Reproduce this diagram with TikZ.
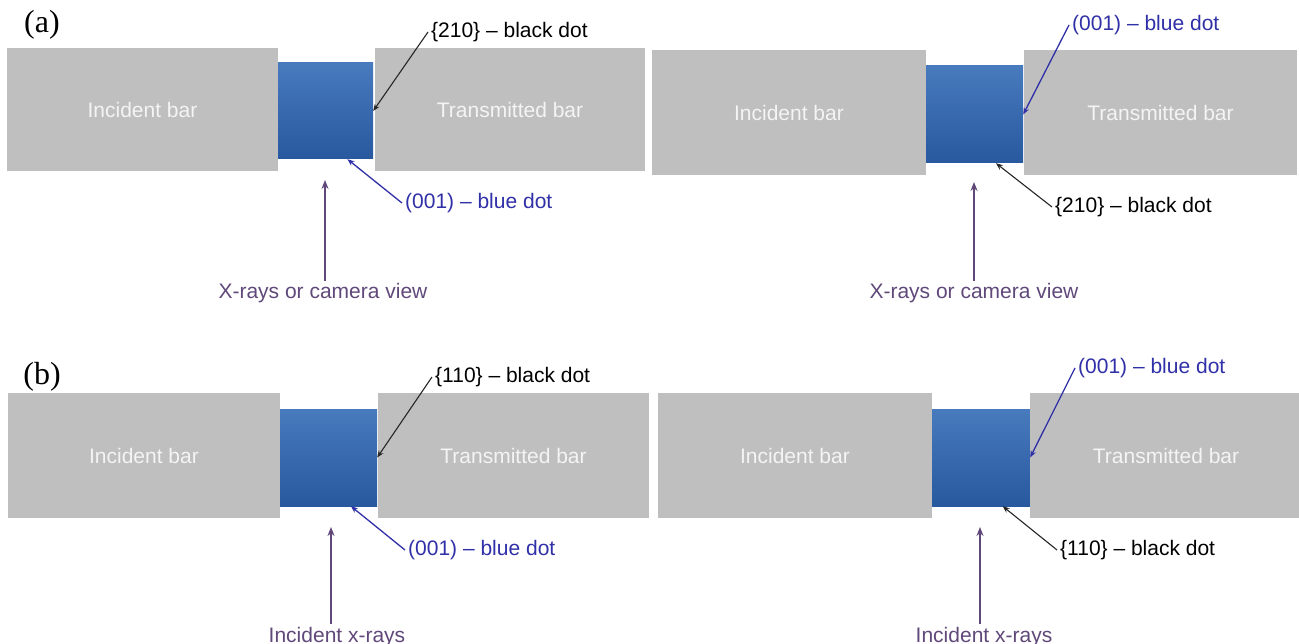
\documentclass[tikz,border=0pt]{standalone}
\usepackage{fontspec}
\setmainfont{Liberation Sans}
\newfontfamily\panelfont{Liberation Serif}
\usetikzlibrary{arrows.meta,calc}
\definecolor{barfill}{RGB}{191,191,191}
\definecolor{bartext}{RGB}{244,244,244}
\definecolor{smptop}{RGB}{72,122,190}
\definecolor{smpbot}{RGB}{40,88,158}
\definecolor{dotblue}{RGB}{48,48,168}
\definecolor{raypurple}{RGB}{96,73,122}
\begin{document}
\begin{tikzpicture}[x=1pt,y=-1pt,
  txt/.style={font=\fontsize{21}{25}\selectfont},
  bar/.style={txt, fill=barfill, inner sep=0pt, text=bartext},
  sample/.style={top color=smptop, bottom color=smpbot, inner sep=0pt},
  lbl/.style={txt, inner sep=3pt, anchor=west},
  panel/.style={font=\panelfont\fontsize{32}{36}\selectfont, inner sep=0pt},
  blk/.style={draw=black!85, line width=1.1pt, -{Stealth[length=7pt,width=5.5pt]}},
  blu/.style={draw=dotblue, line width=1.3pt, -{Stealth[length=7pt,width=5.5pt]}},
  ray/.style={draw=raypurple, line width=2pt, -{Stealth[length=9pt,width=7pt]}},
  raylbl/.style={txt, text=raypurple, inner sep=3pt, anchor=base}
]
\fill[white] (0,0) rectangle (1299,644);
\useasboundingbox (0,0) rectangle (1299,644);

% ---------- (a), left: {210} on the side face ----------
\node[panel] (pa) at (42,25) {(a)};
\node[bar, minimum width=271pt, minimum height=123pt] (incA) at (142.5,109.5) {Incident bar};
\node[sample, minimum width=95pt, minimum height=96pt] (smpA) at (325.5,111) {};
\node[bar, minimum width=270pt, minimum height=123pt] (trA) at (510,109.5) {Transmitted bar};
\node[lbl] (kA) at (428,32) {\{210\} – black dot};
\node[lbl, text=dotblue] (bA) at (402,203) {(001) – blue dot};
\draw[blk] (kA.west) -- (smpA.east);
\draw[blu] (bA.west) -- ($(smpA.south west)!0.73!(smpA.south east)$);
\coordinate (rayA) at (325,180);
\node[raylbl] (rayAl) at (323,299) {X-rays or camera view};
\draw[ray] (rayAl.north -| rayA) -- (rayA);

% ---------- (a), right: (001) on the side face ----------
\node[bar, minimum width=274pt, minimum height=125pt] (incA2) at (789,112.5) {Incident bar};
\node[sample, minimum width=97pt, minimum height=97pt] (smpA2) at (974.5,114.5) {};
\node[bar, minimum width=273pt, minimum height=125pt] (trA2) at (1160.5,112.5) {Transmitted bar};
\node[lbl, text=dotblue] (bA2) at (1069,25) {(001) – blue dot};
\node[lbl] (kA2) at (1052,207) {\{210\} – black dot};
\draw[blu] (bA2.west) -- (smpA2.east);
\draw[blk] (kA2.west) -- ($(smpA2.south west)!0.72!(smpA2.south east)$);
\coordinate (rayA2) at (974,182);
\node[raylbl] (rayA2l) at (974,299) {X-rays or camera view};
\draw[ray] (rayA2l.north -| rayA2) -- (rayA2);

% ---------- (b), left: {110} on the side face ----------
\node[panel] (pb) at (42,377) {(b)};
\node[bar, minimum width=272pt, minimum height=125pt] (incB) at (144,455.5) {Incident bar};
\node[sample, minimum width=97pt, minimum height=97pt] (smpB) at (328.5,457.5) {};
\node[bar, minimum width=271pt, minimum height=125pt] (trB) at (513.5,455.5) {Transmitted bar};
\node[lbl] (kB) at (432,377) {\{110\} – black dot};
\node[lbl, text=dotblue] (bB) at (405,550) {(001) – blue dot};
\draw[blk] (kB.west) -- (smpB.east);
\draw[blu] (bB.west) -- ($(smpB.south west)!0.73!(smpB.south east)$);
\coordinate (rayB) at (331,527);
\node[raylbl] (rayBl) at (337,642) {Incident x-rays};
\draw[ray] (rayBl.north -| rayB) -- (rayB);

% ---------- (b), right: (001) on the side face ----------
\node[bar, minimum width=274pt, minimum height=125pt] (incB2) at (795,455.5) {Incident bar};
\node[sample, minimum width=98pt, minimum height=97pt] (smpB2) at (981,457.5) {};
\node[bar, minimum width=272pt, minimum height=125pt] (trB2) at (1166,455.5) {Transmitted bar};
\node[lbl, text=dotblue] (bB2) at (1075,368) {(001) – blue dot};
\node[lbl] (kB2) at (1057,550) {\{110\} – black dot};
\draw[blu] (bB2.west) -- (smpB2.east);
\draw[blk] (kB2.west) -- ($(smpB2.south west)!0.72!(smpB2.south east)$);
\coordinate (rayB2) at (980,527);
\node[raylbl] (rayB2l) at (984,642) {Incident x-rays};
\draw[ray] (rayB2l.north -| rayB2) -- (rayB2);
\end{tikzpicture}
\end{document}
